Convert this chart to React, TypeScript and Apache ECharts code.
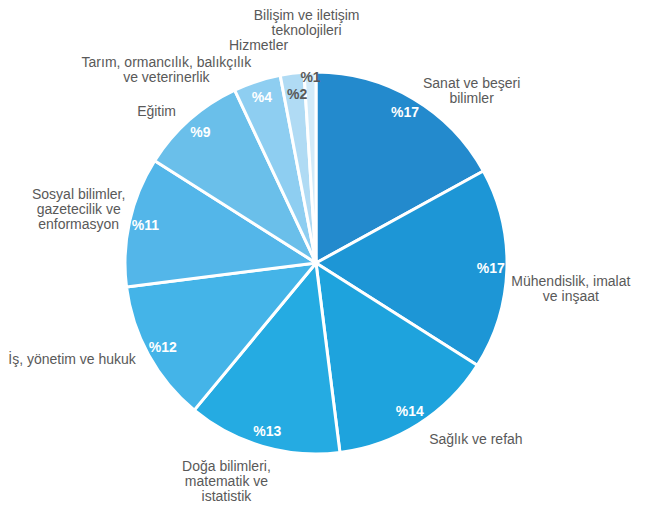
import React, { useEffect, useRef } from "react";
import * as echarts from "echarts";

const categories = [
  "Sanat ve beşeri\nbilimler",
  "Mühendislik, imalat\nve inşaat",
  "Sağlık ve refah",
  "Doğa bilimleri,\nmatematik ve\nistatistik",
  "İş, yönetim ve hukuk",
  "Sosyal bilimler,\ngazetecilik ve\nenformasyon",
  "Eğitim",
  "Tarım, ormancılık, balıkçılık\nve veterinerlik",
  "Hizmetler",
  "Bilişim ve iletişim\nteknolojileri",
];
const values = [17, 17, 14, 13, 12, 11, 9, 4, 2, 1];

const colors = [
  "#238ACD",
  "#1D96D6",
  "#1EA3DD",
  "#25ABE2",
  "#44B4E8",
  "#53B6E9",
  "#6ABFEA",
  "#8ECEF1",
  "#B0DBF4",
  "#D3EBF9",
];
const innerLabelColors = ["#fff", "#fff", "#fff", "#fff", "#fff", "#fff", "#fff", "#fff", "#595959", "#595959"];
// nudges for outer category labels (px), relative to the outer ring mid-point
const outerNudge: [number, number][] = [
  [36, 30],
  [20, 18],
  [34, -22],
  [-24, -8],
  [-38, -17],
  [-8, -3],
  [-4, 24],
  [-77, 30],
  [-28, 15],
  [-2, -6],
];
const innerNudge: [number, number][] = [
  [0, 0], [0, 0], [0, 0], [0, 0], [0, 0], [0, 0], [0, 0], [0, 0], [3, 5], [0, -11],
];

const CENTER = [316, 263];
const R = 191;
const FONT = "'Liberation Sans', Arial, sans-serif";

export default function App() {
  const ref = useRef<HTMLDivElement>(null);
  useEffect(() => {
    if (!ref.current) return;
    const chart = echarts.init(ref.current, null, { renderer: "svg" });
    const base = values.map((v, i) => ({ name: categories[i], value: v }));
    chart.setOption({
      animation: false,
      backgroundColor: "#ffffff",
      series: [
        {
          type: "pie",
          center: CENTER,
          radius: R,
          startAngle: 90,
          clockwise: true,
          silent: true,
          label: { show: false },
          labelLine: { show: false },
          itemStyle: { borderColor: "#ffffff", borderWidth: 3 },
          data: base.map((d, i) => ({ ...d, itemStyle: { color: colors[i] } })),
        },
        {
          type: "pie",
          center: CENTER,
          radius: [R * 0.8, R],
          startAngle: 90,
          silent: true,
          itemStyle: { color: "rgba(0,0,0,0)", borderWidth: 0 },
          label: {
            show: true,
            position: "inside",
            fontFamily: FONT,
            fontSize: 14,
            fontWeight: "bold",
            formatter: (p: any) => "%" + p.value,
          },
          labelLine: { show: false },
          labelLayout: (p: any) => ({ dx: innerNudge[p.dataIndex][0], dy: innerNudge[p.dataIndex][1] }),
          data: base.map((d, i) => ({ ...d, label: { color: innerLabelColors[i] } })),
        },
        {
          type: "pie",
          center: CENTER,
          radius: [R, 273],
          startAngle: 90,
          silent: true,
          itemStyle: { color: "rgba(0,0,0,0)", borderWidth: 0 },
          label: {
            show: true,
            position: "inside",
            fontFamily: FONT,
            fontSize: 14,
            lineHeight: 15,
            color: "#595959",
            formatter: (p: any) => p.name,
          },
          labelLine: { show: false },
          labelLayout: (p: any) => ({ dx: outerNudge[p.dataIndex][0], dy: outerNudge[p.dataIndex][1] }),
          data: base,
        },
      ],
    });
    return () => chart.dispose();
  }, []);
  return (
    <div
      ref={ref}
      style={{ position: "fixed", left: 0, top: 0, width: 646, height: 507 }}
    />
  );
}
